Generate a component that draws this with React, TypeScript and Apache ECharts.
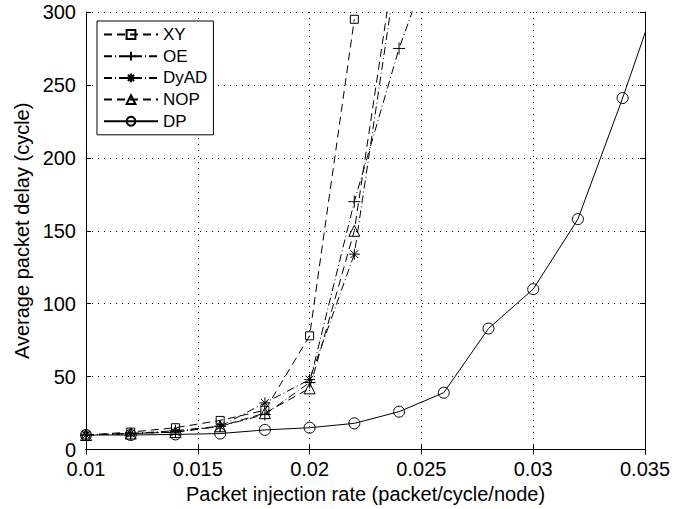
import React, { useEffect, useRef } from "react";
import * as echarts from "echarts";

const rates = [0.01, 0.012, 0.014, 0.016, 0.018, 0.02, 0.022, 0.024, 0.026, 0.028, 0.03, 0.032, 0.034, 0.036];
const xyDelay = [10, 12, 15, 20, 27, 78, 295];
const oeDelay = [10, 11, 13, 16, 24, 46, 170, 275, 360];
const dyadDelay = [10, 11, 12, 16, 32, 48, 134, 340];
const nopDelay = [10, 11, 12, 16, 25, 42, 150, 355];
const dpDelay = [10, 10, 10.4, 11, 13.5, 15, 18, 26, 39, 83, 110, 158, 241, 330];
const seriesNames = ["XY", "OE", "DyAD", "NOP", "DP"];
const xTicks = { min: 0.01, max: 0.035, interval: 0.005 };
const yTicks = { min: 0, max: 300, interval: 50 };

const plusPath = "path://M5,0L5,10M0,5L10,5";
const starPath = "path://M5,0L5,10M0,5L10,5M1.5,1.5L8.5,8.5M8.5,1.5L1.5,8.5";

const FONT = "Liberation Sans, Arial, Helvetica, sans-serif";

function pairs(vals: number[]) {
  return vals.map((v, i) => [rates[i], v]);
}

export default function App() {
  const ref = useRef<HTMLDivElement>(null);
  useEffect(() => {
    document.body.style.margin = "0";
    const chart = echarts.init(ref.current!, null, { renderer: "svg" });
    const mk = (
      name: string,
      vals: number[],
      symbol: string,
      size: number,
      dash: any
    ) => ({
      name,
      type: "line",
      data: pairs(vals),
      symbol,
      symbolSize: size,
      showAllSymbol: true,
      clip: true,
      lineStyle: { color: "#000", width: 1, type: dash },
      itemStyle: { color: "transparent", borderColor: "#000", borderWidth: 1 },
      emphasis: { disabled: true },
    });
    const axisCommon = {
      axisLine: { show: true, lineStyle: { color: "#000", width: 1 } },
      axisTick: { show: true, inside: true, length: 5, lineStyle: { color: "#000" } },
    };
    chart.setOption({
      animation: false,
      backgroundColor: "#fff",
      textStyle: { fontFamily: FONT, color: "#000" },
      grid: { left: 86, right: 40, top: 12, bottom: 57 },
      legend: {
        orient: "vertical",
        left: 97,
        top: 21,
        data: seriesNames,
        itemWidth: 54,
        itemHeight: 11,
        itemGap: 4.7,
        padding: [5, 6, 5, 6],
        backgroundColor: "#fff",
        borderColor: "#000",
        borderWidth: 1,
        borderRadius: 0,
        textStyle: { fontFamily: FONT, fontSize: 17, color: "#000" },
        selectedMode: false,
      },
      xAxis: [
        {
          type: "value",
          ...xTicks,
          ...axisCommon,
          name: "Packet injection rate (packet/cycle/node)",
          nameLocation: "middle",
          nameGap: 29,
          nameTextStyle: { fontFamily: FONT, fontSize: 20, color: "#000" },
          axisLabel: {
            fontFamily: FONT,
            fontSize: 20,
            color: "#000",
            margin: 11,
            lineHeight: 17,
            formatter: (v: number) => String(+v.toFixed(3)),
          },
          splitLine: { show: true, lineStyle: { color: "#000", type: [1, 5], width: 1 } },
        },
        {
          type: "value",
          position: "top",
          ...xTicks,
          ...axisCommon,
          axisLabel: { show: false },
          splitLine: { show: false },
        },
      ],
      yAxis: [
        {
          type: "value",
          ...yTicks,
          ...axisCommon,
          name: "Average packet delay (cycle)",
          nameLocation: "middle",
          nameGap: 53,
          nameTextStyle: { fontFamily: FONT, fontSize: 20, color: "#000" },
          axisLabel: { fontFamily: FONT, fontSize: 20, color: "#000", margin: 10, lineHeight: 14 },
          splitLine: { show: true, lineStyle: { color: "#000", type: [1, 5], width: 1 } },
        },
        {
          type: "value",
          position: "right",
          ...yTicks,
          ...axisCommon,
          axisLabel: { show: false },
          splitLine: { show: false },
        },
      ],
      series: [
        mk("XY", xyDelay, "rect", 8, [8, 5]),
        mk("OE", oeDelay, plusPath, 12, [8, 3, 1, 3]),
        mk("DyAD", dyadDelay, starPath, 11, [8, 3, 1, 3]),
        mk("NOP", nopDelay, "triangle", 11, [8, 5]),
        mk("DP", dpDelay, "circle", 11, "solid"),
      ],
    });
    return () => chart.dispose();
  }, []);
  return <div ref={ref} style={{ width: 685, height: 509 }} />;
}
